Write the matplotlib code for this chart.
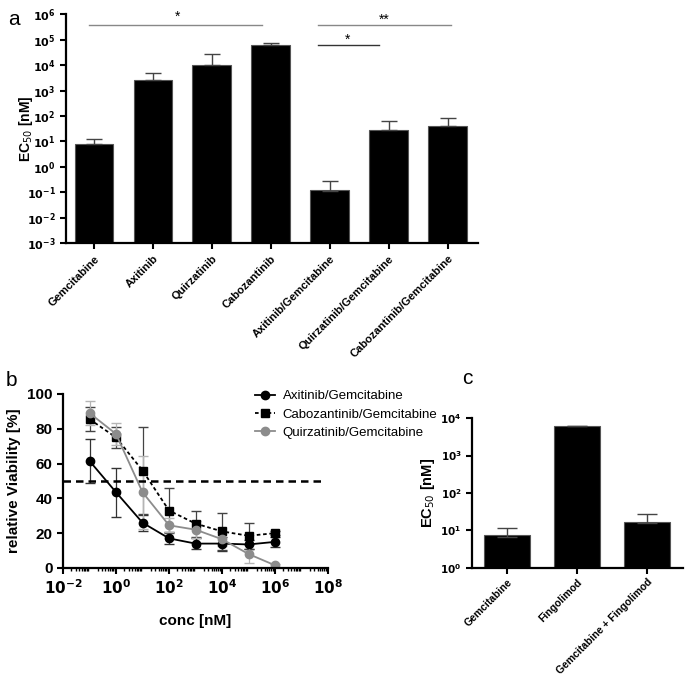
import numpy as np
import matplotlib
matplotlib.use("Agg")
from matplotlib import pyplot as plt
from matplotlib.lines import Line2D
from matplotlib.ticker import LogLocator, FixedLocator, NullFormatter

plt.rcParams['font.family'] = ['Liberation Sans', 'DejaVu Sans']

# panel a data
a_labels = ['Gemcitabine', 'Axitinib', 'Quirzatinib', 'Cabozantinib',
            'Axitinib/Gemcitabine', 'Quirzatinib/Gemcitabine', 'Cabozantinib/Gemcitabine']
a_ec50 = [7.8, 2600, 9700, 60000, 0.117, 29, 40]
a_err = [4.5, 2300, 17000, 14000, 0.16, 36, 45]

# panel b data
conc = [0.1, 1, 10, 100, 1000, 1e4, 1e5, 1e6]
axi = [61.5, 43.5, 26, 17, 14, 14, 13.5, 15]
axi_err = [12.5, 14, 4.5, 3.5, 3, 4, 2.5, 3]
cabo = [85.5, 75, 56, 33, 25.5, 21, 18.5, 20]
cabo_err = [7, 6, 25, 13, 7.5, 10.5, 7.5, 1]
quir = [89, 77, 43.5, 24.5, 22, 16.5, 8, 1.5]
quir_err = [7, 6.5, 21, 4, 5, 4, 5, 1]

# panel c data
c_labels = ['Gemcitabine', 'Fingolimod', 'Gemcitabine + Fingolimod']
c_ec50 = [6.7, 6150, 16]
c_err = [5, 150, 11]

fig = plt.figure(figsize=(6.85, 6.81), dpi=100)

def logfmt(ax, lo, hi):
	ticks = [10.0**k for k in range(lo, hi+1)]
	ax.set_yticks(ticks)
	ax.set_yticklabels([r'$\mathbf{10^{%d}}$' % k for k in range(lo, hi+1)])
	ax.yaxis.set_minor_locator(FixedLocator([]))

def style(ax):
	for s in ['top', 'right']:
		ax.spines[s].set_visible(False)
	for s in ['left', 'bottom']:
		ax.spines[s].set_linewidth(1.6)
	ax.tick_params(width=1.5, length=4, direction='out')

# ---- panel a ----
ax1 = fig.add_axes([0.0964, 0.643, 0.601, 0.336])
x = np.arange(len(a_labels))
ax1.bar(x, a_ec50, width=0.66, color='black', edgecolor='#555555', linewidth=0.8, bottom=1e-3)
ax1.errorbar(x, a_ec50, yerr=[np.zeros(len(x)), a_err], fmt='none', ecolor='#444444',
	elinewidth=1.0, capsize=6, capthick=1.0)
ax1.set_yscale('log')
ax1.set_ylim(1e-3, 1e6)
ax1.set_xlim(-0.475, 6.51)
logfmt(ax1, -3, 6)
ax1.set_xticks(x)
ax1.set_xticklabels(a_labels, rotation=45, ha='right', rotation_mode='anchor', fontsize=8, fontweight='bold')
ax1.tick_params(axis='y', labelsize=8)
ax1.set_ylabel(r'EC$_{50}$ [nM]', fontsize=10, fontweight='bold')
ax1.yaxis.set_label_coords(-0.075, 0.5)
style(ax1)

# significance bars
ax1.plot([-0.08, 2.85], [10**5.56]*2, color='#888888', lw=1.0, clip_on=False)
ax1.plot([3.8, 6.05], [10**5.56]*2, color='#888888', lw=1.0, clip_on=False)
ax1.plot([3.8, 4.83], [10**4.78]*2, color='#333333', lw=1.0, clip_on=False)
ax1.text(1.42, 10**5.9, '*', ha='center', va='center', fontsize=10)
ax1.text(4.93, 10**5.8, '**', ha='center', va='center', fontsize=10)
ax1.text(4.3, 10**5.0, '*', ha='center', va='center', fontsize=10)

# ---- panel b ----
ax2 = fig.add_axes([0.092, 0.166, 0.387, 0.2555])
ax2.errorbar(conc, axi, yerr=axi_err, color='black', marker='o', ms=6, lw=1.3,
	ecolor='#333333', elinewidth=0.9, capsize=3.5)
ax2.errorbar(conc, cabo, yerr=cabo_err, color='black', marker='s', ms=6, lw=1.3, ls=(0, (2, 1.5)),
	ecolor='#444444', elinewidth=0.9, capsize=3.5)
ax2.errorbar(conc, quir, yerr=quir_err, color='#8c8c8c', marker='o', ms=6, lw=1.3,
	ecolor='#b5b5b5', elinewidth=0.9, capsize=3.5)
ax2.axhline(50, xmin=0, xmax=0.985, color='black', ls=(0, (3, 2)), lw=1.8)
ax2.set_xscale('log')
ax2.set_xlim(1e-2, 1e8)
ax2.set_ylim(0, 100)
ax2.set_xticks([1e-2, 1, 1e2, 1e4, 1e6, 1e8])
ax2.set_xticklabels([r'$\mathbf{10^{%d}}$' % k for k in [-2, 0, 2, 4, 6, 8]])
ax2.xaxis.set_minor_locator(LogLocator(base=10, subs=np.arange(2, 10), numticks=50))
ax2.xaxis.set_minor_formatter(NullFormatter())
ax2.set_yticks([0, 20, 40, 60, 80, 100])
for t in ax2.get_yticklabels():
	t.set_fontweight('bold')
ax2.tick_params(labelsize=11)
ax2.tick_params(which='minor', length=2.5, width=1.0)
ax2.set_xlabel('conc [nM]', fontsize=11, fontweight='bold', labelpad=12)
ax2.set_ylabel('relative Viability [%]', fontsize=11, fontweight='bold')
ax2.yaxis.set_label_coords(-0.16, 0.5)
style(ax2)
handles = [
	Line2D([], [], color='black', marker='o', ms=6, lw=1.3),
	Line2D([], [], color='black', marker='s', ms=6, lw=1.3, ls=(0, (2, 1.5))),
	Line2D([], [], color='#8c8c8c', marker='o', ms=6, lw=1.3),
]
names = ['Axitinib/Gemcitabine', 'Cabozantinib/Gemcitabine', 'Quirzatinib/Gemcitabine']
ax2.legend(handles, names, loc='upper left', bbox_to_anchor=(0.68, 1.09), frameon=False, fontsize=9.5,
	handlelength=1.5, handletextpad=0.6, labelspacing=0.45)

# ---- panel c ----
ax3 = fig.add_axes([0.689, 0.166, 0.308, 0.220])
xc = np.arange(len(c_labels))
ax3.bar(xc, c_ec50, width=0.66, color='black', edgecolor='#555555', linewidth=0.8, bottom=1)
ax3.errorbar(xc, c_ec50, yerr=[np.zeros(len(xc)), c_err], fmt='none', ecolor='#444444',
	elinewidth=1.0, capsize=7, capthick=1.0)
ax3.set_yscale('log')
ax3.set_ylim(1, 1e4)
ax3.set_xlim(-0.5, 2.51)
logfmt(ax3, 0, 4)
ax3.set_xticks(xc)
ax3.set_xticklabels(c_labels, rotation=45, ha='right', rotation_mode='anchor', fontsize=7.5, fontweight='bold')
ax3.tick_params(axis='y', labelsize=7.5)
ax3.tick_params(axis='x', pad=2.5)
ax3.set_ylabel(r'EC$_{50}$ [nM]', fontsize=10.5, fontweight='bold')
ax3.yaxis.set_label_coords(-0.165, 0.5)
style(ax3)

fig.text(0.012, 0.985, 'a', fontsize=15, va='top')
fig.text(0.008, 0.455, 'b', fontsize=15, va='top')
fig.text(0.675, 0.458, 'c', fontsize=15, va='top')

fig.savefig('out.png', dpi=100)
